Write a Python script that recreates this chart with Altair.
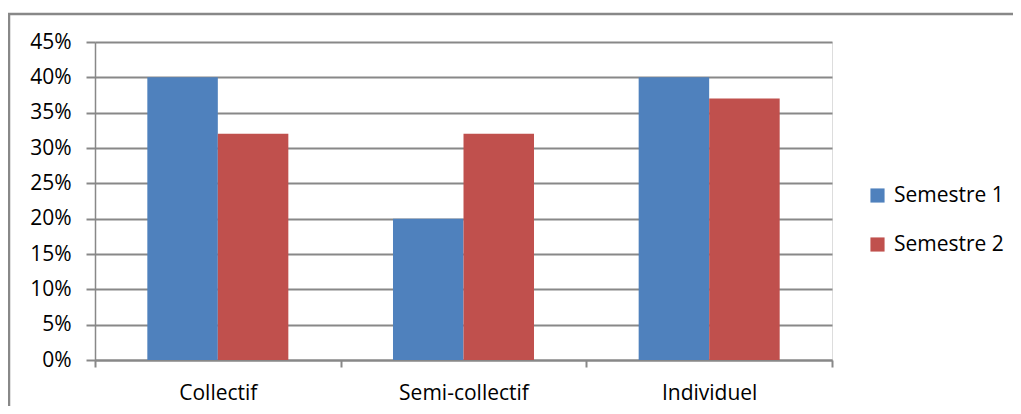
import altair as alt
import pandas as pd

categories = ["Collectif", "Semi-collectif", "Individuel"]
series = ["Semestre 1", "Semestre 2"]
semestre1 = [0.40, 0.20, 0.40]
semestre2 = [0.32, 0.32, 0.37]
y_ticks = [0, 0.05, 0.10, 0.15, 0.20, 0.25, 0.30, 0.35, 0.40, 0.45]

rows = []
for c, v1, v2 in zip(categories, semestre1, semestre2):
    rows.append({"cat": c, "serie": series[0], "val": v1})
    rows.append({"cat": c, "serie": series[1], "val": v2})
df = pd.DataFrame(rows)

FONT = "Open Sans"
GRAY = "#888888"
FS = 21

bars = alt.Chart(df).mark_bar(size=70.5).encode(
    x=alt.X("cat:N", sort=categories, title=None,
            scale=alt.Scale(paddingInner=0, paddingOuter=0),
            axis=alt.Axis(labelAngle=0, tickBand="extent", tickSize=7,
                          tickColor=GRAY, domainColor=GRAY, domainWidth=2,
                          tickWidth=2, labelPadding=15, labelFontSize=FS,
                          labelFont=FONT, labelColor="#000", grid=False)),
    xOffset=alt.XOffset("serie:N", sort=series,
                        scale=alt.Scale(paddingInner=0, paddingOuter=0.742)),
    y=alt.Y("val:Q", title=None,
            scale=alt.Scale(domain=[0, 0.45], nice=False),
            axis=alt.Axis(values=y_ticks, format=".0%", tickSize=9,
                          tickColor=GRAY, tickWidth=2, domainColor=GRAY,
                          domainWidth=1.5, gridColor=GRAY, gridWidth=2,
                          labelPadding=15, labelFontSize=FS, labelFont=FONT,
                          labelColor="#000")),
    color=alt.Color("serie:N", sort=series,
                    scale=alt.Scale(domain=series, range=["#4F81BD", "#C0504D"]),
                    legend=alt.Legend(title=None, orient="none", legendX=772,
                                      legendY=143, symbolType="square",
                                      symbolSize=200, symbolStrokeWidth=0,
                                      labelFontSize=FS, labelFont=FONT,
                                      labelColor="#000", rowPadding=27,
                                      labelOffset=6)),
)

border = alt.Chart(pd.DataFrame({"a": [0]})).mark_rect(
    fill=None, stroke=GRAY, strokeWidth=2.5
).encode(
    x=alt.value(-86), x2=alt.value(940), y=alt.value(-28), y2=alt.value(420)
)

chart = alt.layer(border, bars).properties(
    width=737, height=318,
    autosize=alt.AutoSizeParams(type="none"),
    padding={"left": 87, "top": 34, "right": 181, "bottom": 46},
).configure_view(stroke=None).configure(background="white")

chart.save("out.html", embed_options={"renderer": "svg", "actions": False})
